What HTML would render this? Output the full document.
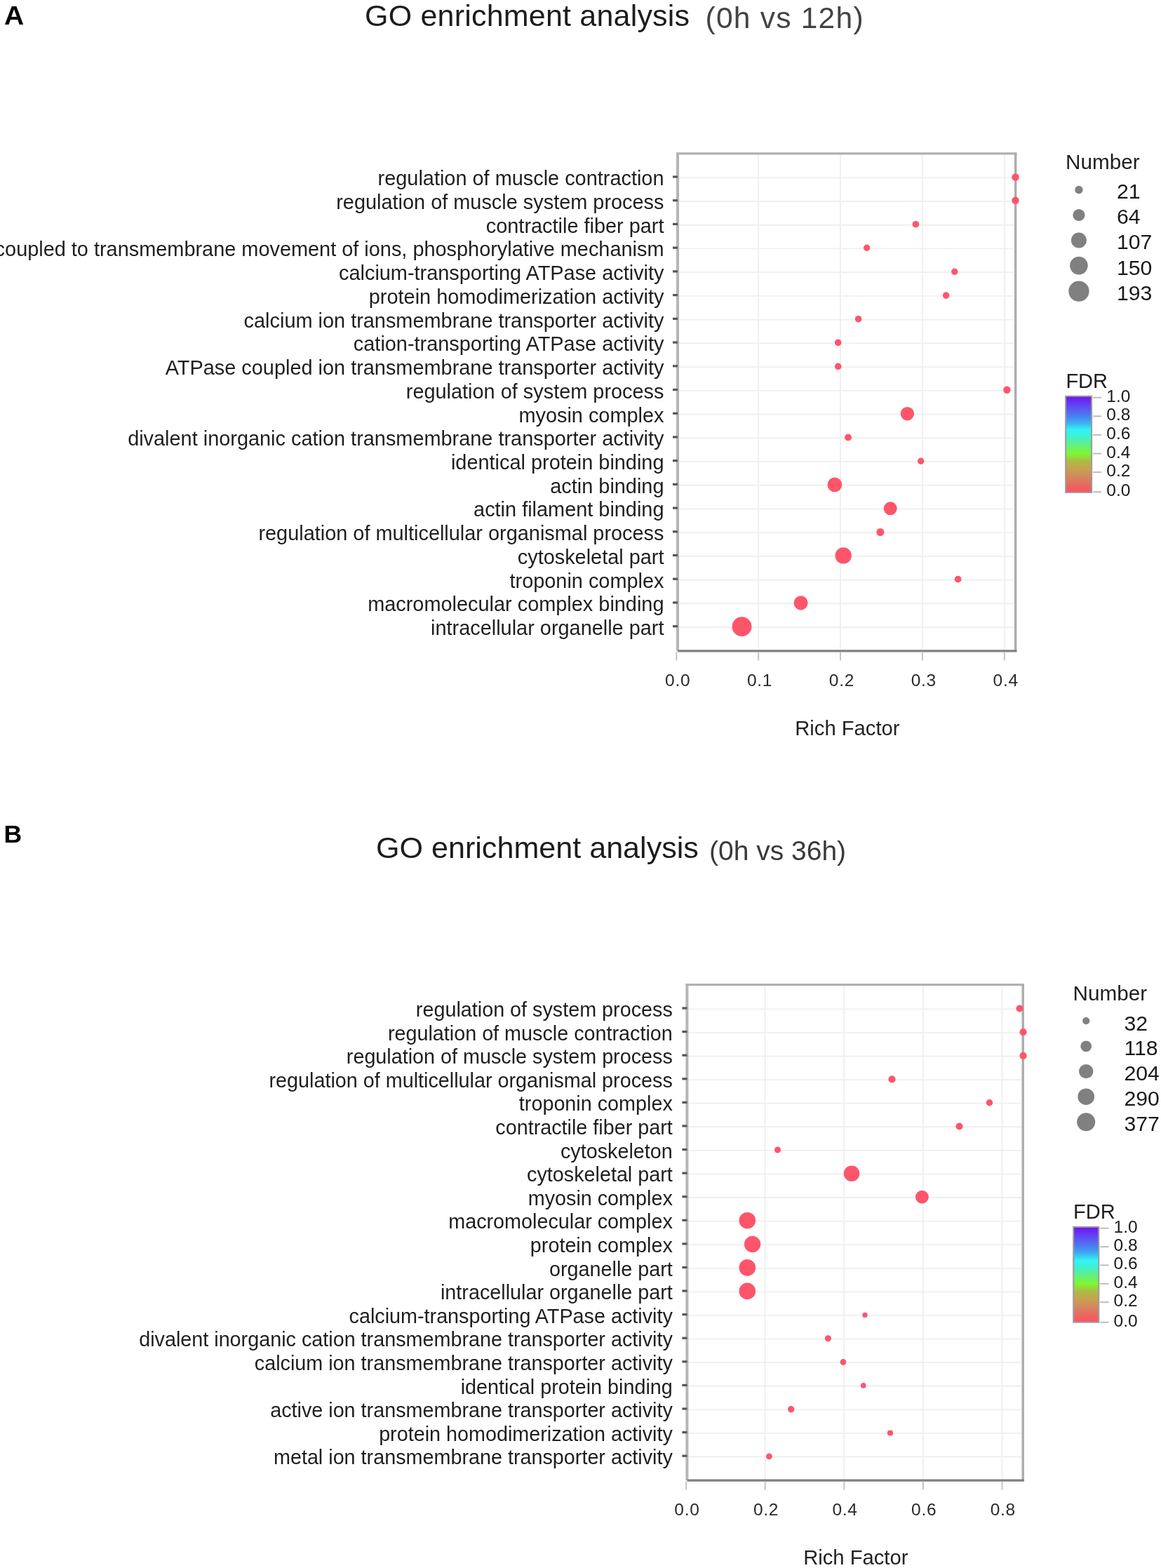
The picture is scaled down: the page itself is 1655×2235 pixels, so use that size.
<!DOCTYPE html>
<html><head><meta charset="utf-8"><title>GO enrichment analysis</title>
<style>
html,body{margin:0;padding:0;background:#fff;overflow:hidden;}
body{width:1655px;height:2235px;}
svg{display:block;}
text{font-family:"Liberation Sans", Arial, sans-serif;}
.pl{font-weight:bold;font-size:36.5px;fill:#000;}
.tt{font-size:43px;fill:#1c1c1c;letter-spacing:0.2px;}
.ts{font-size:42.6px;fill:#444;letter-spacing:1.2px;}
.ts2{font-size:39px;fill:#3a3a3a;}
.yl{font-size:28.9px;fill:#1e1e1e;text-anchor:end;}
.ylb{font-size:28.75px;}
.xt{font-size:24.5px;fill:#2a2a2a;text-anchor:middle;letter-spacing:0.7px;}
.axt{font-size:29.2px;fill:#222;text-anchor:middle;}
.lgt{font-size:29.7px;fill:#1e1e1e;}
.fdt{font-size:29px;fill:#1e1e1e;}
.lgn{font-size:30.2px;fill:#1a1a1a;}
.fl{font-size:24.5px;fill:#1a1a1a;}
</style></head><body>
<svg width="1655" height="2235" viewBox="0 0 1655 2235">
<defs><linearGradient id="fdr" x1="0" y1="1" x2="0" y2="0">
<stop offset="0" stop-color="#FF5068"/>
<stop offset="0.06" stop-color="#F06060"/>
<stop offset="0.14" stop-color="#D88060"/>
<stop offset="0.24" stop-color="#C8A050"/>
<stop offset="0.32" stop-color="#B0B848"/>
<stop offset="0.4" stop-color="#80F530"/>
<stop offset="0.5" stop-color="#60F088"/>
<stop offset="0.58" stop-color="#40F0D0"/>
<stop offset="0.65" stop-color="#30F5F5"/>
<stop offset="0.72" stop-color="#40B0F0"/>
<stop offset="0.77" stop-color="#4090F0"/>
<stop offset="0.82" stop-color="#5070F0"/>
<stop offset="0.9" stop-color="#6048F0"/>
<stop offset="1" stop-color="#7010F8"/>
</linearGradient></defs>
<text transform="translate(6 34.5) scale(1.07 1)" class="pl">A</text>
<text x="520" y="36.9" class="tt">GO enrichment analysis</text>
<text x="1005.5" y="40.3" class="ts">(0h vs 12h)</text>
<text x="5.5" y="1201" class="pl" style="font-size:35.5px">B</text>
<text x="536" y="1222.7" class="tt" style="font-size:43.1px;letter-spacing:0">GO enrichment analysis</text>
<text x="1011" y="1225.6" class="ts2">(0h vs 36h)</text>
<line x1="1081.14" y1="218.8" x2="1081.14" y2="927.85" stroke="#F0F0F0" stroke-width="2"/>
<line x1="1198.02" y1="218.8" x2="1198.02" y2="927.85" stroke="#F0F0F0" stroke-width="2"/>
<line x1="1314.9" y1="218.8" x2="1314.9" y2="927.85" stroke="#F0F0F0" stroke-width="2"/>
<line x1="1431.78" y1="218.8" x2="1431.78" y2="927.85" stroke="#F0F0F0" stroke-width="2"/>
<line x1="966" y1="253.3" x2="1447.7" y2="253.3" stroke="#EFEFEF" stroke-width="1.8"/>
<line x1="966" y1="287.02" x2="1447.7" y2="287.02" stroke="#EFEFEF" stroke-width="1.8"/>
<line x1="966" y1="320.74" x2="1447.7" y2="320.74" stroke="#EFEFEF" stroke-width="1.8"/>
<line x1="966" y1="354.46" x2="1447.7" y2="354.46" stroke="#EFEFEF" stroke-width="1.8"/>
<line x1="966" y1="388.18" x2="1447.7" y2="388.18" stroke="#EFEFEF" stroke-width="1.8"/>
<line x1="966" y1="421.9" x2="1447.7" y2="421.9" stroke="#EFEFEF" stroke-width="1.8"/>
<line x1="966" y1="455.62" x2="1447.7" y2="455.62" stroke="#EFEFEF" stroke-width="1.8"/>
<line x1="966" y1="489.34" x2="1447.7" y2="489.34" stroke="#EFEFEF" stroke-width="1.8"/>
<line x1="966" y1="523.06" x2="1447.7" y2="523.06" stroke="#EFEFEF" stroke-width="1.8"/>
<line x1="966" y1="556.78" x2="1447.7" y2="556.78" stroke="#EFEFEF" stroke-width="1.8"/>
<line x1="966" y1="590.5" x2="1447.7" y2="590.5" stroke="#EFEFEF" stroke-width="1.8"/>
<line x1="966" y1="624.22" x2="1447.7" y2="624.22" stroke="#EFEFEF" stroke-width="1.8"/>
<line x1="966" y1="657.94" x2="1447.7" y2="657.94" stroke="#EFEFEF" stroke-width="1.8"/>
<line x1="966" y1="691.66" x2="1447.7" y2="691.66" stroke="#EFEFEF" stroke-width="1.8"/>
<line x1="966" y1="725.38" x2="1447.7" y2="725.38" stroke="#EFEFEF" stroke-width="1.8"/>
<line x1="966" y1="759.1" x2="1447.7" y2="759.1" stroke="#EFEFEF" stroke-width="1.8"/>
<line x1="966" y1="792.82" x2="1447.7" y2="792.82" stroke="#EFEFEF" stroke-width="1.8"/>
<line x1="966" y1="826.54" x2="1447.7" y2="826.54" stroke="#EFEFEF" stroke-width="1.8"/>
<line x1="966" y1="860.26" x2="1447.7" y2="860.26" stroke="#EFEFEF" stroke-width="1.8"/>
<line x1="966" y1="893.98" x2="1447.7" y2="893.98" stroke="#EFEFEF" stroke-width="1.8"/>
<line x1="964" y1="218.8" x2="1449.5" y2="218.8" stroke="#B1B1B1" stroke-width="3.2"/>
<line x1="1447.7" y1="218.8" x2="1447.7" y2="927.85" stroke="#ACACAC" stroke-width="3.4"/>
<line x1="966" y1="218.8" x2="966" y2="927.85" stroke="#B6B6B6" stroke-width="4"/>
<line x1="966" y1="927.85" x2="1449.4" y2="927.85" stroke="#808080" stroke-width="3.1"/>
<line x1="964.26" y1="929.35" x2="964.26" y2="941.35" stroke="#C4C4C4" stroke-width="2"/>
<text x="966.16" y="977.65" class="xt">0.0</text>
<line x1="1081.14" y1="929.35" x2="1081.14" y2="941.35" stroke="#C4C4C4" stroke-width="2"/>
<text x="1083.04" y="977.65" class="xt">0.1</text>
<line x1="1198.02" y1="929.35" x2="1198.02" y2="941.35" stroke="#C4C4C4" stroke-width="2"/>
<text x="1199.92" y="977.65" class="xt">0.2</text>
<line x1="1314.9" y1="929.35" x2="1314.9" y2="941.35" stroke="#C4C4C4" stroke-width="2"/>
<text x="1316.8" y="977.65" class="xt">0.3</text>
<line x1="1431.78" y1="929.35" x2="1431.78" y2="941.35" stroke="#C4C4C4" stroke-width="2"/>
<text x="1433.68" y="977.65" class="xt">0.4</text>
<text x="1207.85" y="1047.95" class="axt">Rich Factor</text>
<rect x="959" y="250.4" width="7" height="3.2" fill="#555"/>
<text x="946.5" y="264.3" class="yl">regulation of muscle contraction</text>
<rect x="959" y="284.12" width="7" height="3.2" fill="#555"/>
<text x="946.5" y="298.02" class="yl">regulation of muscle system process</text>
<rect x="959" y="317.84" width="7" height="3.2" fill="#555"/>
<text x="946.5" y="331.74" class="yl">contractile fiber part</text>
<rect x="959" y="351.56" width="7" height="3.2" fill="#555"/>
<text x="946.5" y="365.46" class="yl">ATPase activity, coupled to transmembrane movement of ions, phosphorylative mechanism</text>
<rect x="959" y="385.28" width="7" height="3.2" fill="#555"/>
<text x="946.5" y="399.18" class="yl">calcium-transporting ATPase activity</text>
<rect x="959" y="419" width="7" height="3.2" fill="#555"/>
<text x="946.5" y="432.9" class="yl">protein homodimerization activity</text>
<rect x="959" y="452.72" width="7" height="3.2" fill="#555"/>
<text x="946.5" y="466.62" class="yl">calcium ion transmembrane transporter activity</text>
<rect x="959" y="486.44" width="7" height="3.2" fill="#555"/>
<text x="946.5" y="500.34" class="yl">cation-transporting ATPase activity</text>
<rect x="959" y="520.16" width="7" height="3.2" fill="#555"/>
<text x="946.5" y="534.06" class="yl">ATPase coupled ion transmembrane transporter activity</text>
<rect x="959" y="553.88" width="7" height="3.2" fill="#555"/>
<text x="946.5" y="567.78" class="yl">regulation of system process</text>
<rect x="959" y="587.6" width="7" height="3.2" fill="#555"/>
<text x="946.5" y="601.5" class="yl">myosin complex</text>
<rect x="959" y="621.32" width="7" height="3.2" fill="#555"/>
<text x="946.5" y="635.22" class="yl">divalent inorganic cation transmembrane transporter activity</text>
<rect x="959" y="655.04" width="7" height="3.2" fill="#555"/>
<text x="946.5" y="668.94" class="yl">identical protein binding</text>
<rect x="959" y="688.76" width="7" height="3.2" fill="#555"/>
<text x="946.5" y="702.66" class="yl">actin binding</text>
<rect x="959" y="722.48" width="7" height="3.2" fill="#555"/>
<text x="946.5" y="736.38" class="yl">actin filament binding</text>
<rect x="959" y="756.2" width="7" height="3.2" fill="#555"/>
<text x="946.5" y="770.1" class="yl">regulation of multicellular organismal process</text>
<rect x="959" y="789.92" width="7" height="3.2" fill="#555"/>
<text x="946.5" y="803.82" class="yl">cytoskeletal part</text>
<rect x="959" y="823.64" width="7" height="3.2" fill="#555"/>
<text x="946.5" y="837.54" class="yl">troponin complex</text>
<rect x="959" y="857.36" width="7" height="3.2" fill="#555"/>
<text x="946.5" y="871.26" class="yl">macromolecular complex binding</text>
<rect x="959" y="891.08" width="7" height="3.2" fill="#555"/>
<text x="946.5" y="904.98" class="yl">intracellular organelle part</text>
<circle cx="1447.5" cy="252.5" r="5.2" fill="#FE556B"/>
<circle cx="1447.5" cy="285.8" r="5.2" fill="#FE556B"/>
<circle cx="1305.4" cy="319.7" r="4.8" fill="#FE556B"/>
<circle cx="1235.6" cy="353.3" r="4.7" fill="#FE556B"/>
<circle cx="1360.8" cy="387.2" r="4.7" fill="#FE556B"/>
<circle cx="1348.6" cy="421.1" r="4.8" fill="#FE556B"/>
<circle cx="1223.6" cy="454.7" r="4.8" fill="#FE556B"/>
<circle cx="1194.7" cy="488.4" r="4.8" fill="#FE556B"/>
<circle cx="1194.7" cy="522.3" r="4.8" fill="#FE556B"/>
<circle cx="1435.4" cy="555.8" r="5.2" fill="#FE556B"/>
<circle cx="1293.4" cy="589.7" r="9.7" fill="#FE556B"/>
<circle cx="1209" cy="623.5" r="4.9" fill="#FE556B"/>
<circle cx="1312.7" cy="657.2" r="4.7" fill="#FE556B"/>
<circle cx="1189.9" cy="690.9" r="10.3" fill="#FE556B"/>
<circle cx="1269.2" cy="724.7" r="9.5" fill="#FE556B"/>
<circle cx="1254.9" cy="758.5" r="5.5" fill="#FE556B"/>
<circle cx="1202.2" cy="791.9" r="11.7" fill="#FE556B"/>
<circle cx="1365.6" cy="825.6" r="4.9" fill="#FE556B"/>
<circle cx="1141.6" cy="859.4" r="10.05" fill="#FE556B"/>
<circle cx="1057.5" cy="893.2" r="13.9" fill="#FE556B"/>
<line x1="1090.7" y1="1403.7" x2="1090.7" y2="2110.1" stroke="#F0F0F0" stroke-width="2"/>
<line x1="1203.3" y1="1403.7" x2="1203.3" y2="2110.1" stroke="#F0F0F0" stroke-width="2"/>
<line x1="1315.9" y1="1403.7" x2="1315.9" y2="2110.1" stroke="#F0F0F0" stroke-width="2"/>
<line x1="1428.5" y1="1403.7" x2="1428.5" y2="2110.1" stroke="#F0F0F0" stroke-width="2"/>
<line x1="979.4" y1="1438.3" x2="1458.2" y2="1438.3" stroke="#EFEFEF" stroke-width="1.8"/>
<line x1="979.4" y1="1471.89" x2="1458.2" y2="1471.89" stroke="#EFEFEF" stroke-width="1.8"/>
<line x1="979.4" y1="1505.48" x2="1458.2" y2="1505.48" stroke="#EFEFEF" stroke-width="1.8"/>
<line x1="979.4" y1="1539.07" x2="1458.2" y2="1539.07" stroke="#EFEFEF" stroke-width="1.8"/>
<line x1="979.4" y1="1572.66" x2="1458.2" y2="1572.66" stroke="#EFEFEF" stroke-width="1.8"/>
<line x1="979.4" y1="1606.25" x2="1458.2" y2="1606.25" stroke="#EFEFEF" stroke-width="1.8"/>
<line x1="979.4" y1="1639.84" x2="1458.2" y2="1639.84" stroke="#EFEFEF" stroke-width="1.8"/>
<line x1="979.4" y1="1673.43" x2="1458.2" y2="1673.43" stroke="#EFEFEF" stroke-width="1.8"/>
<line x1="979.4" y1="1707.02" x2="1458.2" y2="1707.02" stroke="#EFEFEF" stroke-width="1.8"/>
<line x1="979.4" y1="1740.61" x2="1458.2" y2="1740.61" stroke="#EFEFEF" stroke-width="1.8"/>
<line x1="979.4" y1="1774.2" x2="1458.2" y2="1774.2" stroke="#EFEFEF" stroke-width="1.8"/>
<line x1="979.4" y1="1807.79" x2="1458.2" y2="1807.79" stroke="#EFEFEF" stroke-width="1.8"/>
<line x1="979.4" y1="1841.38" x2="1458.2" y2="1841.38" stroke="#EFEFEF" stroke-width="1.8"/>
<line x1="979.4" y1="1874.97" x2="1458.2" y2="1874.97" stroke="#EFEFEF" stroke-width="1.8"/>
<line x1="979.4" y1="1908.56" x2="1458.2" y2="1908.56" stroke="#EFEFEF" stroke-width="1.8"/>
<line x1="979.4" y1="1942.15" x2="1458.2" y2="1942.15" stroke="#EFEFEF" stroke-width="1.8"/>
<line x1="979.4" y1="1975.74" x2="1458.2" y2="1975.74" stroke="#EFEFEF" stroke-width="1.8"/>
<line x1="979.4" y1="2009.33" x2="1458.2" y2="2009.33" stroke="#EFEFEF" stroke-width="1.8"/>
<line x1="979.4" y1="2042.92" x2="1458.2" y2="2042.92" stroke="#EFEFEF" stroke-width="1.8"/>
<line x1="979.4" y1="2076.51" x2="1458.2" y2="2076.51" stroke="#EFEFEF" stroke-width="1.8"/>
<line x1="977.4" y1="1403.7" x2="1460" y2="1403.7" stroke="#B1B1B1" stroke-width="3.2"/>
<line x1="1458.2" y1="1403.7" x2="1458.2" y2="2110.1" stroke="#ACACAC" stroke-width="3.4"/>
<line x1="979.4" y1="1403.7" x2="979.4" y2="2110.1" stroke="#B6B6B6" stroke-width="4"/>
<line x1="979.4" y1="2110.1" x2="1459.9" y2="2110.1" stroke="#808080" stroke-width="3.1"/>
<line x1="978.1" y1="2111.6" x2="978.1" y2="2123.6" stroke="#C4C4C4" stroke-width="2"/>
<text x="979.4" y="2159.9" class="xt">0.0</text>
<line x1="1090.7" y1="2111.6" x2="1090.7" y2="2123.6" stroke="#C4C4C4" stroke-width="2"/>
<text x="1092" y="2159.9" class="xt">0.2</text>
<line x1="1203.3" y1="2111.6" x2="1203.3" y2="2123.6" stroke="#C4C4C4" stroke-width="2"/>
<text x="1204.6" y="2159.9" class="xt">0.4</text>
<line x1="1315.9" y1="2111.6" x2="1315.9" y2="2123.6" stroke="#C4C4C4" stroke-width="2"/>
<text x="1317.2" y="2159.9" class="xt">0.6</text>
<line x1="1428.5" y1="2111.6" x2="1428.5" y2="2123.6" stroke="#C4C4C4" stroke-width="2"/>
<text x="1429.8" y="2159.9" class="xt">0.8</text>
<text x="1219.8" y="2230.2" class="axt">Rich Factor</text>
<rect x="972.4" y="1435.4" width="7" height="3.2" fill="#555"/>
<text x="958.8" y="1449.1" class="yl ylb">regulation of system process</text>
<rect x="972.4" y="1468.99" width="7" height="3.2" fill="#555"/>
<text x="958.8" y="1482.69" class="yl ylb">regulation of muscle contraction</text>
<rect x="972.4" y="1502.58" width="7" height="3.2" fill="#555"/>
<text x="958.8" y="1516.28" class="yl ylb">regulation of muscle system process</text>
<rect x="972.4" y="1536.17" width="7" height="3.2" fill="#555"/>
<text x="958.8" y="1549.87" class="yl ylb">regulation of multicellular organismal process</text>
<rect x="972.4" y="1569.76" width="7" height="3.2" fill="#555"/>
<text x="958.8" y="1583.46" class="yl ylb">troponin complex</text>
<rect x="972.4" y="1603.35" width="7" height="3.2" fill="#555"/>
<text x="958.8" y="1617.05" class="yl ylb">contractile fiber part</text>
<rect x="972.4" y="1636.94" width="7" height="3.2" fill="#555"/>
<text x="958.8" y="1650.64" class="yl ylb">cytoskeleton</text>
<rect x="972.4" y="1670.53" width="7" height="3.2" fill="#555"/>
<text x="958.8" y="1684.23" class="yl ylb">cytoskeletal part</text>
<rect x="972.4" y="1704.12" width="7" height="3.2" fill="#555"/>
<text x="958.8" y="1717.82" class="yl ylb">myosin complex</text>
<rect x="972.4" y="1737.71" width="7" height="3.2" fill="#555"/>
<text x="958.8" y="1751.41" class="yl ylb">macromolecular complex</text>
<rect x="972.4" y="1771.3" width="7" height="3.2" fill="#555"/>
<text x="958.8" y="1785" class="yl ylb">protein complex</text>
<rect x="972.4" y="1804.89" width="7" height="3.2" fill="#555"/>
<text x="958.8" y="1818.59" class="yl ylb">organelle part</text>
<rect x="972.4" y="1838.48" width="7" height="3.2" fill="#555"/>
<text x="958.8" y="1852.18" class="yl ylb">intracellular organelle part</text>
<rect x="972.4" y="1872.07" width="7" height="3.2" fill="#555"/>
<text x="958.8" y="1885.77" class="yl ylb">calcium-transporting ATPase activity</text>
<rect x="972.4" y="1905.66" width="7" height="3.2" fill="#555"/>
<text x="958.8" y="1919.36" class="yl ylb">divalent inorganic cation transmembrane transporter activity</text>
<rect x="972.4" y="1939.25" width="7" height="3.2" fill="#555"/>
<text x="958.8" y="1952.95" class="yl ylb">calcium ion transmembrane transporter activity</text>
<rect x="972.4" y="1972.84" width="7" height="3.2" fill="#555"/>
<text x="958.8" y="1986.54" class="yl ylb">identical protein binding</text>
<rect x="972.4" y="2006.43" width="7" height="3.2" fill="#555"/>
<text x="958.8" y="2020.13" class="yl ylb">active ion transmembrane transporter activity</text>
<rect x="972.4" y="2040.02" width="7" height="3.2" fill="#555"/>
<text x="958.8" y="2053.72" class="yl ylb">protein homodimerization activity</text>
<rect x="972.4" y="2073.61" width="7" height="3.2" fill="#555"/>
<text x="958.8" y="2087.31" class="yl ylb">metal ion transmembrane transporter activity</text>
<circle cx="1453.5" cy="1437.5" r="5.1" fill="#FE556B"/>
<circle cx="1458.6" cy="1471.2" r="5.1" fill="#FE556B"/>
<circle cx="1458.6" cy="1504.9" r="5.1" fill="#FE556B"/>
<circle cx="1271.5" cy="1538.4" r="5.1" fill="#FE556B"/>
<circle cx="1410.5" cy="1571.7" r="4.7" fill="#FE556B"/>
<circle cx="1367.5" cy="1605.5" r="5" fill="#FE556B"/>
<circle cx="1108.5" cy="1639" r="4.5" fill="#FE556B"/>
<circle cx="1214" cy="1672.7" r="11.3" fill="#FE556B"/>
<circle cx="1314.4" cy="1706.2" r="9.4" fill="#FE556B"/>
<circle cx="1065.3" cy="1739.7" r="11.8" fill="#FE556B"/>
<circle cx="1072.6" cy="1773.4" r="11.7" fill="#FE556B"/>
<circle cx="1065.3" cy="1806.9" r="11.8" fill="#FE556B"/>
<circle cx="1065.3" cy="1840.4" r="11.8" fill="#FE556B"/>
<circle cx="1233" cy="1874.4" r="3.7" fill="#FE556B"/>
<circle cx="1180.4" cy="1907.8" r="4.6" fill="#FE556B"/>
<circle cx="1201.9" cy="1941.5" r="4.4" fill="#FE556B"/>
<circle cx="1230.7" cy="1974.9" r="3.8" fill="#FE556B"/>
<circle cx="1127.7" cy="2008.7" r="4.7" fill="#FE556B"/>
<circle cx="1269" cy="2042.5" r="4.1" fill="#FE556B"/>
<circle cx="1096.4" cy="2075.9" r="4.4" fill="#FE556B"/>
<text x="1519" y="241.2" class="lgt">Number</text>
<circle cx="1537.9" cy="270.5" r="5.7" fill="#808080"/>
<text x="1592" y="283.4" class="lgn">21</text>
<circle cx="1537.9" cy="306.5" r="8.6" fill="#808080"/>
<text x="1592" y="319.4" class="lgn">64</text>
<circle cx="1537.9" cy="342.5" r="11" fill="#808080"/>
<text x="1592" y="355.4" class="lgn">107</text>
<circle cx="1537.9" cy="378.6" r="12.8" fill="#808080"/>
<text x="1592" y="391.5" class="lgn">150</text>
<circle cx="1537.9" cy="415.1" r="14.7" fill="#808080"/>
<text x="1592" y="427.5" class="lgn">193</text>
<text x="1519.4" y="552.9" class="fdt">FDR</text>
<rect x="1519.1" y="564.7" width="37" height="137.2" fill="url(#fdr)" stroke="#9C9C9C" stroke-width="2"/>
<line x1="1558.1" y1="566.7" x2="1570.1" y2="566.7" stroke="#BDBDBD" stroke-width="2"/>
<text x="1577.3" y="572.7" class="fl">1.0</text>
<line x1="1558.1" y1="593.3" x2="1570.1" y2="593.3" stroke="#BDBDBD" stroke-width="2"/>
<text x="1577.3" y="599.3" class="fl">0.8</text>
<line x1="1558.1" y1="619.9" x2="1570.1" y2="619.9" stroke="#BDBDBD" stroke-width="2"/>
<text x="1577.3" y="625.9" class="fl">0.6</text>
<line x1="1558.1" y1="646.5" x2="1570.1" y2="646.5" stroke="#BDBDBD" stroke-width="2"/>
<text x="1577.3" y="652.5" class="fl">0.4</text>
<line x1="1558.1" y1="673.1" x2="1570.1" y2="673.1" stroke="#BDBDBD" stroke-width="2"/>
<text x="1577.3" y="679.1" class="fl">0.2</text>
<line x1="1558.1" y1="701.2" x2="1570.1" y2="701.2" stroke="#BDBDBD" stroke-width="2"/>
<text x="1577.3" y="707.2" class="fl">0.0</text>
<text x="1529.5" y="1426" class="lgt">Number</text>
<circle cx="1548.2" cy="1455.1" r="5.1" fill="#808080"/>
<text x="1602.5" y="1468.5" class="lgn">32</text>
<circle cx="1548.2" cy="1491.3" r="7.9" fill="#808080"/>
<text x="1602.5" y="1504" class="lgn">118</text>
<circle cx="1548.2" cy="1527.1" r="10.2" fill="#808080"/>
<text x="1602.5" y="1540" class="lgn">204</text>
<circle cx="1548.2" cy="1563.2" r="11.8" fill="#808080"/>
<text x="1602.5" y="1576.1" class="lgn">290</text>
<circle cx="1548.2" cy="1599.2" r="13" fill="#808080"/>
<text x="1602.5" y="1612.1" class="lgn">377</text>
<text x="1530.1" y="1737.1" class="fdt">FDR</text>
<rect x="1530.2" y="1748.9" width="36.1" height="135.8" fill="url(#fdr)" stroke="#9C9C9C" stroke-width="2"/>
<line x1="1568.3" y1="1750.7" x2="1580.3" y2="1750.7" stroke="#BDBDBD" stroke-width="2"/>
<text x="1587.6" y="1756.7" class="fl">1.0</text>
<line x1="1568.3" y1="1777.1" x2="1580.3" y2="1777.1" stroke="#BDBDBD" stroke-width="2"/>
<text x="1587.6" y="1783.1" class="fl">0.8</text>
<line x1="1568.3" y1="1803.4" x2="1580.3" y2="1803.4" stroke="#BDBDBD" stroke-width="2"/>
<text x="1587.6" y="1809.4" class="fl">0.6</text>
<line x1="1568.3" y1="1829.8" x2="1580.3" y2="1829.8" stroke="#BDBDBD" stroke-width="2"/>
<text x="1587.6" y="1835.8" class="fl">0.4</text>
<line x1="1568.3" y1="1856.1" x2="1580.3" y2="1856.1" stroke="#BDBDBD" stroke-width="2"/>
<text x="1587.6" y="1862.1" class="fl">0.2</text>
<line x1="1568.3" y1="1884.8" x2="1580.3" y2="1884.8" stroke="#BDBDBD" stroke-width="2"/>
<text x="1587.6" y="1890.8" class="fl">0.0</text>
</svg></body></html>
